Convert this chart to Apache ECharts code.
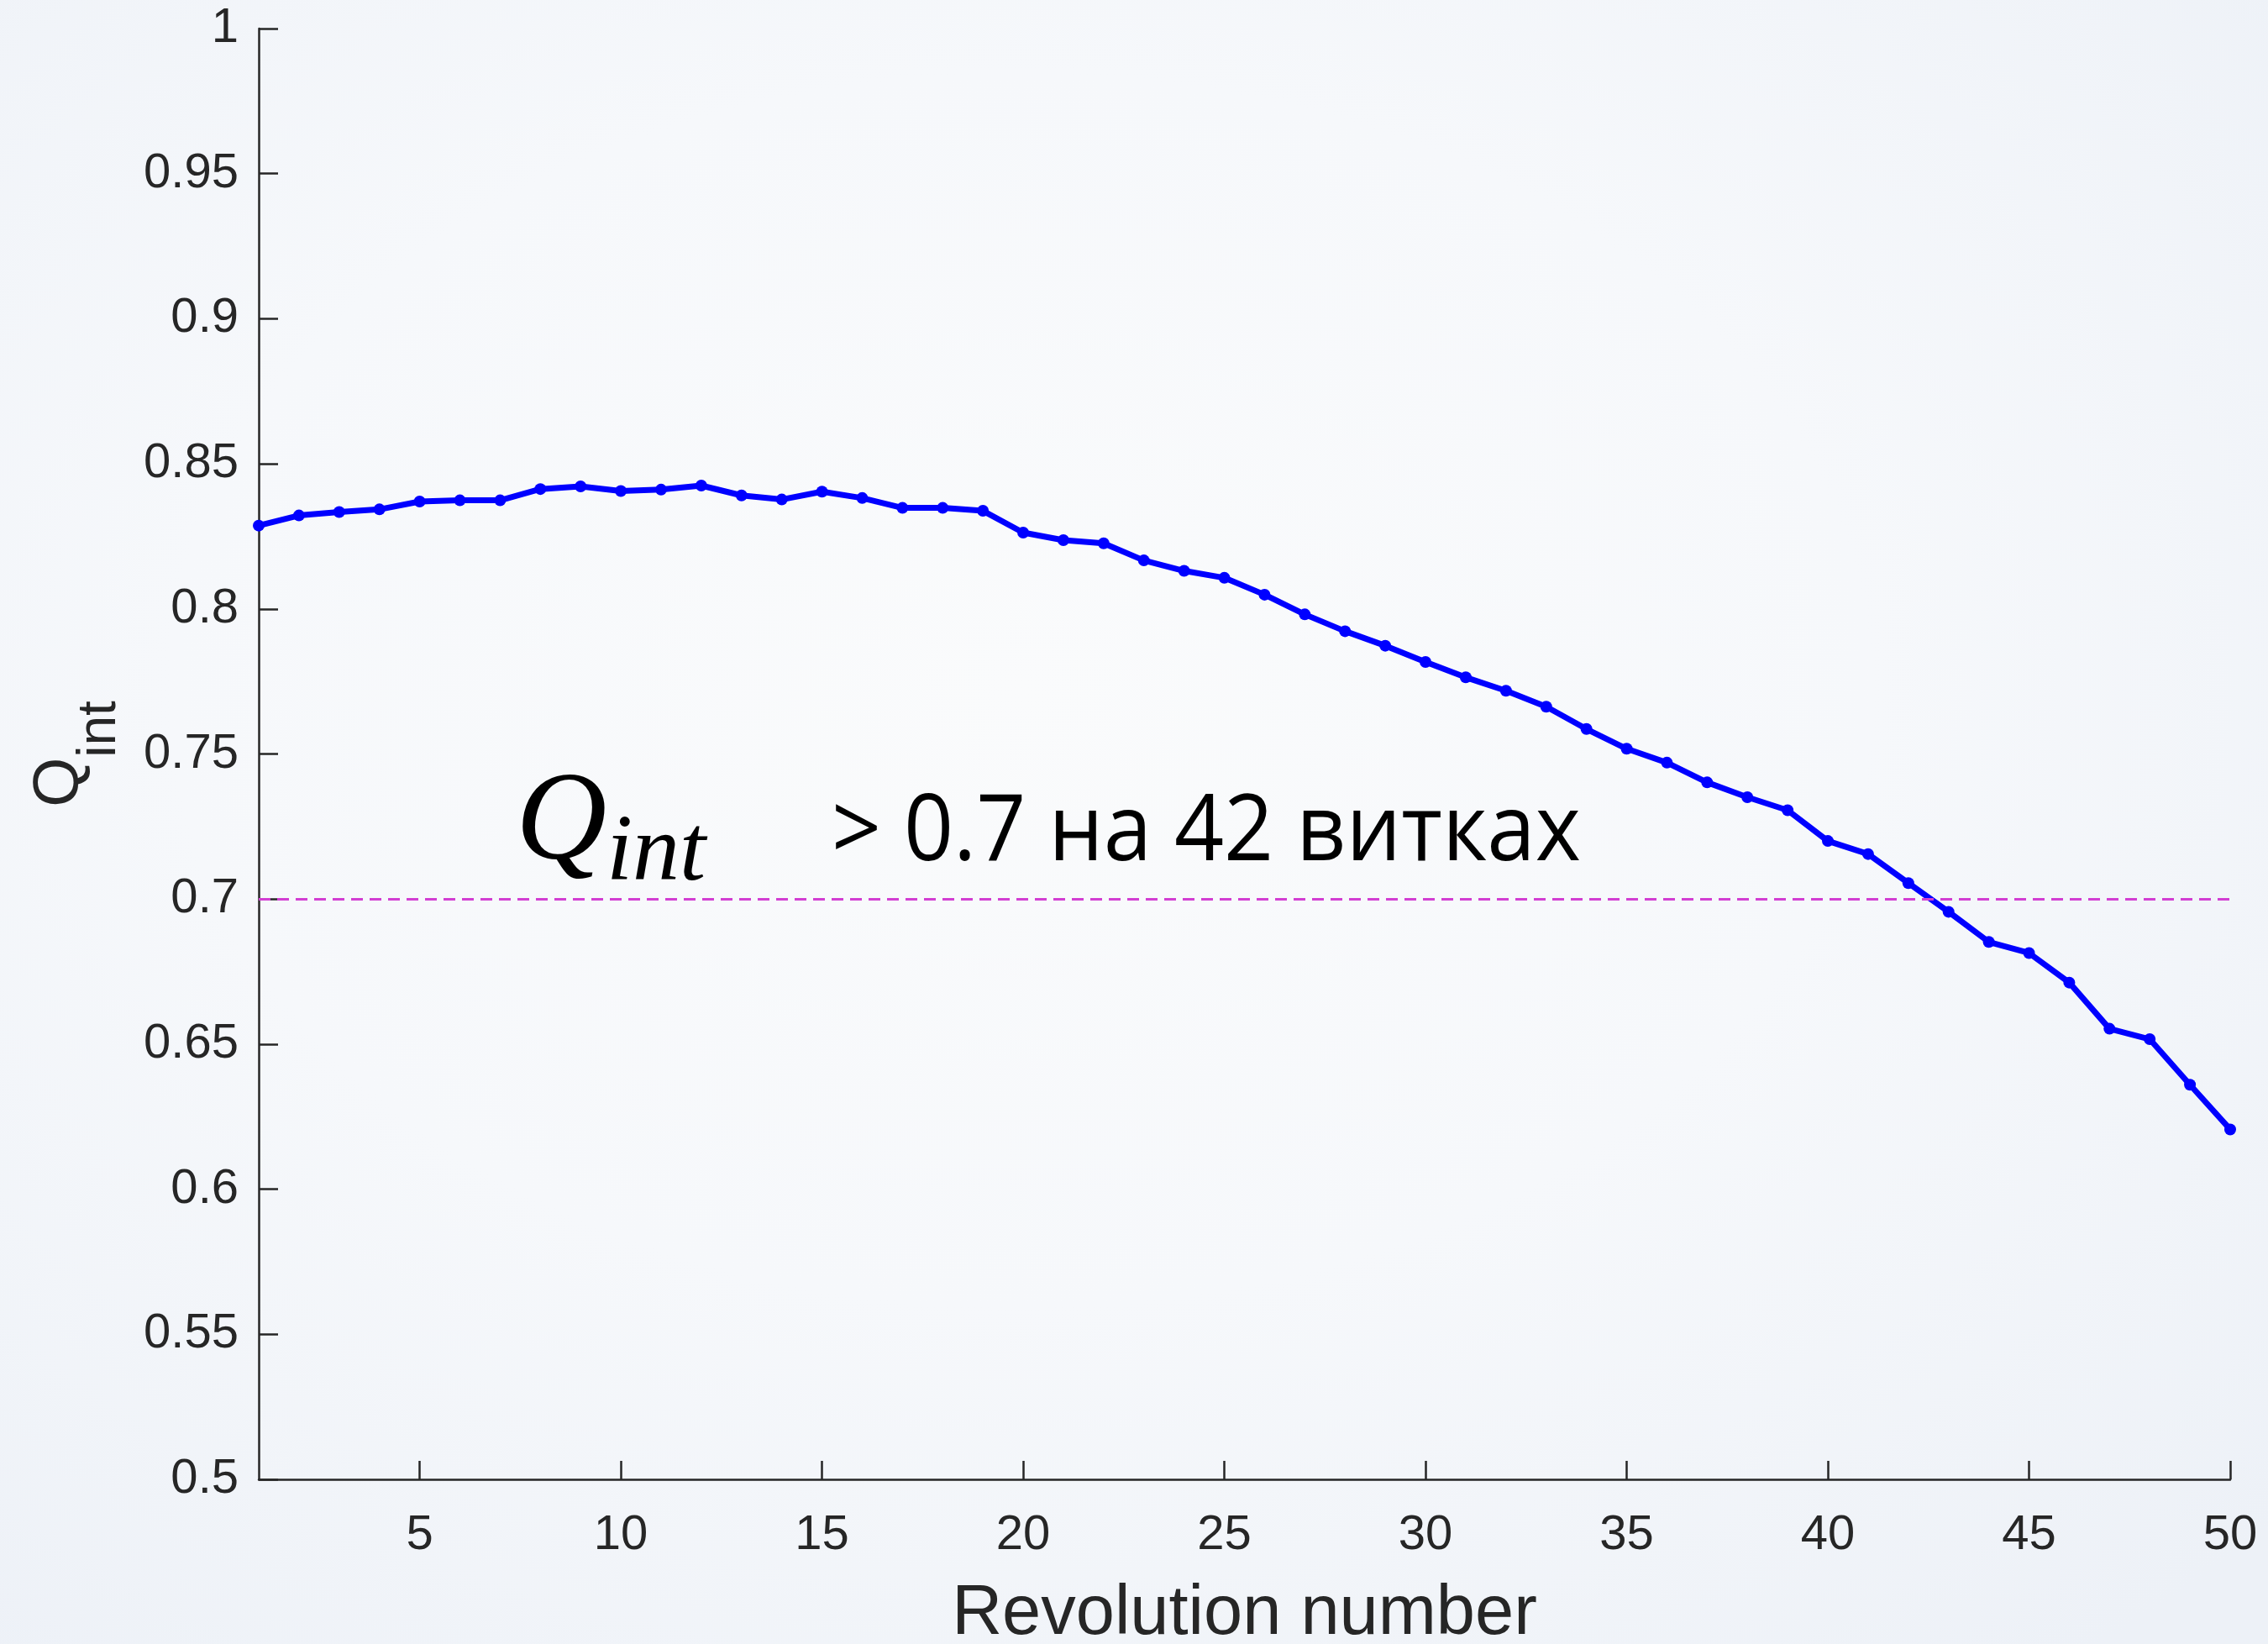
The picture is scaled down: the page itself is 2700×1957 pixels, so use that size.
<!DOCTYPE html>
<html>
<head>
<meta charset="utf-8">
<script src="https://cdn.jsdelivr.net/npm/echarts@6/dist/echarts.min.js"></script>
<style>
html,body{margin:0;padding:0;width:2700px;height:1957px;overflow:hidden;}
body{background:radial-gradient(ellipse 75% 75% at 45% 42%, #fafbfc 0%, #f6f8fb 50%, #edf1f7 100%);}
#chart{width:2700px;height:1957px;}
</style>
</head>
<body>
<div id="chart"></div>
<script>
// ---- data ----
const revolutions = [1,2,3,4,5,6,7,8,9,10,11,12,13,14,15,16,17,18,19,20,21,22,23,24,25,26,27,28,29,30,31,32,33,34,35,36,37,38,39,40,41,42,43,44,45,46,47,48,49,50];
const qint = [0.8287,0.8322,0.8334,0.8343,0.8370,0.8374,0.8374,0.8413,0.8422,0.8406,
              0.8411,0.8425,0.8391,0.8377,0.8404,0.8382,0.8348,0.8348,0.8338,0.8263,
              0.8237,0.8226,0.8167,0.8131,0.8107,0.8049,0.7981,0.7923,0.7873,0.7817,
              0.7764,0.7718,0.7663,0.7586,0.7518,0.7470,0.7402,0.7351,0.7306,0.7200,
              0.7155,0.7055,0.6956,0.6852,0.6814,0.6712,0.6553,0.6517,0.6360,0.6206];
const threshold = 0.7;
const xTickValues = [5,10,15,20,25,30,35,40,45,50];
const xAxisTitle = 'Revolution number';
const yAxisTitleMain = 'Q';
const yAxisTitleSub = 'int';
const noteMain = 'Q';
const noteSub = 'int';
const noteText = '> 0.7 на 42 витках';

const seriesData = revolutions.map((r, i) => [r, qint[i]]);

const axisColor = '#262626';
const chart = echarts.init(document.getElementById('chart'), null, {renderer: 'canvas'});
chart.setOption({
  backgroundColor: 'transparent',
  animation: false,
  grid: {left: 308, right: 45, top: 34, bottom: 196, containLabel: false, outerBoundsMode: 'none'},
  xAxis: {
    type: 'value', min: 1, max: 50,
    name: xAxisTitle, nameLocation: 'middle', nameGap: 120,
    nameTextStyle: {fontFamily: 'Liberation Sans', fontSize: 83, color: axisColor},
    axisLine: {show: true, lineStyle: {color: axisColor, width: 2.5}},
    axisTick: {show: true, inside: true, length: 22, customValues: xTickValues, lineStyle: {color: axisColor, width: 2.5}},
    axisLabel: {show: true, customValues: xTickValues, margin: 38, fontFamily: 'Liberation Sans', fontSize: 58, color: axisColor},
    splitLine: {show: false}
  },
  yAxis: {
    type: 'value', min: 0.5, max: 1, interval: 0.05,
    name: '{q|' + yAxisTitleMain + '}{s|' + yAxisTitleSub + '}',
    nameLocation: 'middle', nameGap: 157, nameRotate: 90,
    nameTextStyle: {
      color: axisColor,
      rich: {
        q: {fontFamily: 'Liberation Sans', fontSize: 76, color: axisColor},
        s: {fontFamily: 'Liberation Sans', fontSize: 64, color: axisColor, padding: [95, 0, 0, 0]}
      }
    },
    axisLine: {show: true, lineStyle: {color: axisColor, width: 2.5}},
    axisTick: {show: true, inside: true, length: 23, lineStyle: {color: axisColor, width: 2.5}},
    axisLabel: {show: true, margin: 24, fontFamily: 'Liberation Sans', fontSize: 58, color: axisColor,
      formatter: v => String(+v.toFixed(2))},
    splitLine: {show: false}
  },
  series: [{
    type: 'line',
    data: seriesData,
    symbol: 'circle', symbolSize: 14,
    lineStyle: {color: '#0000ff', width: 7},
    itemStyle: {color: '#0000ff'},
    z: 3,
    markLine: {
      silent: true, symbol: 'none', label: {show: false},
      lineStyle: {color: '#d23ed2', width: 3, type: [14, 8]},
      emphasis: {disabled: true},
      data: [{yAxis: threshold}]
    }
  }],
  graphic: [
    {type: 'text', left: 614, top: 908, z: 10,
     style: {text: noteMain, fontFamily: 'Liberation Serif', fontStyle: 'italic', fontSize: 150, fill: '#000'}},
    {type: 'text', left: 722, top: 962, z: 10,
     style: {text: noteSub, fontFamily: 'Liberation Serif', fontStyle: 'italic', fontSize: 112, fill: '#000', letterSpacing: 10}},
    {type: 'text', left: 990, top: 938, z: 10, scaleX: 0.94,
     style: {text: noteText, fontFamily: 'Open Sans', fontSize: 110, fill: '#000'}}
  ]
});
</script>
</body>
</html>
